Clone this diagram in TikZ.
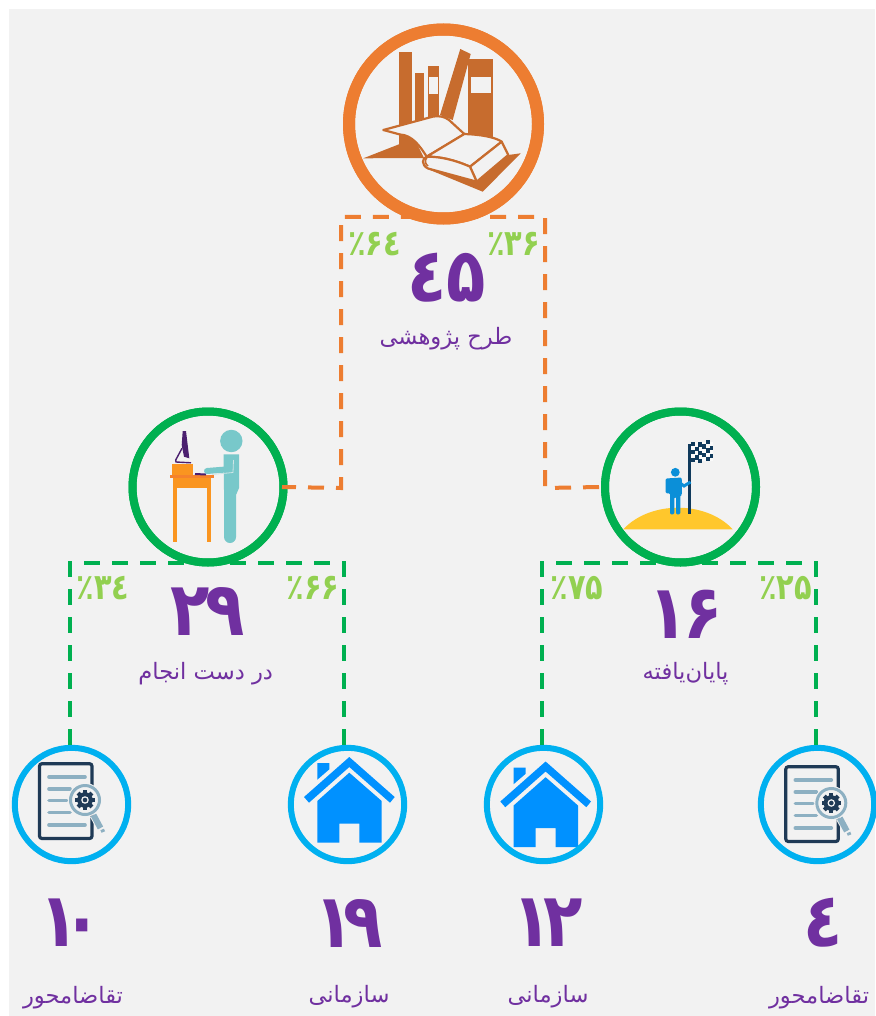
\documentclass[tikz,border=0pt]{standalone}
\usepackage{fontspec}
\newfontfamily\fa[Script=Arabic]{DejaVu Sans}
\newfontfamily\fanum[Script=Arabic,FakeStretch=0.86]{DejaVu Sans Bold}
\newfontfamily\fapct[Script=Arabic,FakeStretch=0.8]{DejaVu Sans Bold}
\TeXXeTstate=1
\definecolor{bgc}{HTML}{F2F2F2}
\definecolor{ringO}{HTML}{ED7D31}
\definecolor{ringG}{HTML}{00B050}
\definecolor{ringB}{HTML}{00B0F0}
\definecolor{purp}{HTML}{7030A0}
\definecolor{pct}{HTML}{92D050}
\definecolor{bookc}{HTML}{C76C2E}
\definecolor{teal}{HTML}{78C8CA}
\definecolor{deskA}{HTML}{FA9520}
\definecolor{deskB}{HTML}{F5822C}
\definecolor{monc}{HTML}{4B1F6F}
\definecolor{hill}{HTML}{FFC72C}
\definecolor{navy}{HTML}{103A5C}
\definecolor{manc}{HTML}{0B8FD8}
\definecolor{docn}{HTML}{1F3A56}
\definecolor{docl}{HTML}{8DB0C2}
\definecolor{housec}{HTML}{0091FF}
\tikzset{
  ring/.style={circle,draw,inner sep=0pt,fill=none},
  bigring/.style={ring,draw=ringO,line width=12pt,minimum size=189pt},
  midring/.style={ring,draw=ringG,line width=8pt,minimum size=151pt},
  smallring/.style={ring,draw=ringB,line width=6pt,minimum size=113.4pt},
  orangedash/.style={draw=ringO,line width=4pt,dash pattern=on 16pt off 12pt},
  greendash/.style={draw=ringG,line width=4pt,dash pattern=on 16pt off 12pt},
  numlabel/.style={text=purp,font=\fanum\fontsize{75}{75}\selectfont,inner sep=0pt},
  pctlabel/.style={text=pct,font=\fapct\fontsize{36}{36}\selectfont,inner sep=0pt},
  namelabel/.style={text=purp,font=\fa\fontsize{22.6}{22.6}\selectfont,inner sep=0pt},
  pageout/.style={fill=bgc,draw=bookc,line width=2.2pt,line join=round},
}
\newcommand{\docicon}{%
  \draw[docn,line width=3.2pt,rounded corners=2.5pt] (39.5,763.7) rectangle (92,838.5);
  \foreach \yy/\xx in {777/85,789/70,800.5/66.7,812.5/70,825/85}
    \draw[docl,line width=3.6pt,line cap=round] (49,\yy) -- (\xx,\yy);
  \draw[bgc,line width=8pt] (93.5,815) -- (103,832);
  \draw[docl,line width=6pt] (93.5,815) -- (100.5,828);
  \draw[docl,line width=2.8pt] (101,831.5) -- (104.5,830);
  \fill[bgc] (85,800) circle (17);
  \draw[docl,line width=3pt] (85,800) circle (14.5);
  \fill[docn] (85,800) circle (7.8);
  \foreach \a in {0,45,...,315}
    \fill[docn,rotate around={\a:(85,800)}] (83,790.2) rectangle (87,794);
  \fill[bgc] (85,800) circle (3.8);
  \fill[docn] (85,800) circle (2.3);
}
\newcommand{\houseicon}{%
  \fill[housec] (317.3,801) -- (349.3,772.7) -- (381.7,801) -- (381.7,842.7) -- (359.3,842.7) -- (359.3,823.7) -- (339.3,823.7) -- (339.3,842.7) -- (317.3,842.7) -- cycle;
  \fill[housec] (349.3,757) -- (394.7,797) -- (390,802.7) -- (349.3,767) -- (309,802.7) -- (304,797) -- cycle;
  \fill[housec] (317.3,763) -- (329.3,763) -- (329.3,769.3) -- (317.3,779.7) -- cycle;
}
\begin{document}
\begin{tikzpicture}[x=1pt,y=-1pt]
\useasboundingbox (0,0) rectangle (875,1016);
\fill[bgc] (9,9) rectangle (875,1016);

% ---------- book icon
\fill[bookc] (399,51.7) rectangle (412.3,128);
\fill[bookc] (415,72.7) rectangle (424.3,122);
\fill[bookc] (427.7,65.7) rectangle (439.3,118);
\fill[bgc] (429.3,77.3) rectangle (438,94.3);
\fill[bookc] (460.3,49) -- (470.7,54) -- (452.7,120) -- (440,115) -- cycle;
\fill[bookc] (468.3,58.7) rectangle (492.7,137);
\fill[bgc] (470.7,76.7) rectangle (490.7,92.7);
\fill[bookc] (363.3,158.3) -- (399,144.3) -- (399,132) -- (412,134) -- (424,158) -- cycle;
\fill[bookc] (508.3,155) -- (520.7,153.3) -- (482.7,191.7) -- (430,170) -- (470,160) -- cycle;
\path[pageout] (383.3,130) -- (433.3,116.5) .. controls (440,115.5) and (445,117) .. (449,120) -- (464.3,134) -- (426.7,156.7) .. controls (420,146) and (412,135) .. (400,134.5) -- cycle;
\path[pageout] (464.3,134) .. controls (480,134.5) and (495,137) .. (501.7,141.7) -- (470,166.7) .. controls (455,160) and (440,156.5) .. (426.7,156.7) -- cycle;
\path[pageout] (501.7,141.7) -- (508.3,155) -- (476.7,181.7) -- (470,166.7) -- cycle;
\path[pageout] (426.7,156.7) .. controls (440,156.5) and (455,160) .. (470,166.7) -- (476.7,181.7) -- (428,168.5) .. controls (421,165) and (422,158) .. (426.7,156.7) -- cycle;
\draw[bookc,line width=1.6pt] (427,157.5) .. controls (424.5,160) and (425,164) .. (428,166);

% ---------- desk icon
\fill[deskA] (172.3,463.7) rectangle (193.3,475);
\fill[deskA] (173.3,478) rectangle (210.7,488.3);
\fill[deskA] (173.3,488) rectangle (177,542.3);
\fill[deskA] (207,488) rectangle (210.7,542.3);
\fill[deskB] (170,475) rectangle (214,478.3);
\fill[monc] (182.7,431) -- (186,431) -- (189.3,458.3) -- (184,456.7) -- (181.7,445) -- cycle;
\draw[monc,line width=1.4pt] (182,448.3) -- (175.7,460) -- (176,462) -- (191,462.8);
\draw[monc,line width=2pt] (195,474) -- (206,474.5);
\fill[teal] (231.3,441) circle (11.2);
\fill[teal] (223.5,454.3) -- (239,454.3) -- (239,488) -- (236,495) -- (236,537) arc[start angle=0,end angle=180,radius=6] -- (224,490) -- cycle;
\draw[teal,line width=6pt,line cap=round] (207,471) -- (232,469);
\draw[bgc!70!teal,line width=.8pt] (212,474.5) -- (233,472.5) -- (233.5,460);

% ---------- flag icon
\fill[hill] (623.3,529.3) .. controls (650,500.5) and (706,500.5) .. (732.7,529.3) -- cycle;
\fill[bgc!40!white] (691,442) rectangle (712.7,461);
\foreach \c in {0,...,5}
  \foreach \r in {0,...,4}{
    \pgfmathsetmacro\px{691+3.7*\c}
    \pgfmathsetmacro\py{441.5+4.1*\r+1.6*sin(\c*75)}
    \pgfmathparse{int(mod(\c+\r,2))}
    \ifnum\pgfmathresult=0
      \fill[navy] (\px,\py) rectangle (\px+3.9,\py+4.2);
    \fi
  }
\fill[navy] (688.3,444.3) rectangle (691,514);
\fill[manc] (675.3,472.3) circle (4.4);
\fill[manc,rounded corners=1.2pt] (665.7,478.5) -- (681.7,477.5) -- (682,495) -- (680.3,495) -- (680.3,514.3) -- (676,514.3) -- (676,497) -- (674.3,497) -- (674.3,514.3) -- (670,514.3) -- (670,493.3) -- (665.7,493.3) -- cycle;
\draw[manc,line width=3pt] (680,483) -- (684,486) -- (690.5,482);

% ---------- document and house icons
\begin{scope}\docicon\end{scope}
\begin{scope}[shift={(746.3,3)}]\docicon\end{scope}
\begin{scope}\houseicon\end{scope}
\begin{scope}[shift={(196.3,4.5)}]\houseicon\end{scope}

% ---------- rings
\node[midring] (L) at (208,487) {};
\node[midring] (R) at (680.5,487) {};
\node[smallring] (a) at (71.5,804.5) {};
\node[smallring] (b) at (347.5,804.5) {};
\node[smallring] (c) at (543.5,804.5) {};
\node[smallring] (d) at (817.5,804.5) {};

% ---------- green connectors
\coordinate (barL) at (L.center |- 0,563);
\coordinate (barR) at (R.center |- 0,563);
\draw[greendash] ([xshift=-1.5pt]a.north) |- (barL);
\draw[greendash] ([xshift=-3.5pt]b.north) |- (barL);
\draw[greendash] ([xshift=-1.5pt]c.north) |- (barR);
\draw[greendash] ([xshift=-1.5pt]d.north) |- (barR);
\node[midring] at (L) {};
\node[midring] at (R) {};

% ---------- top ring and orange connectors
\node[bigring] (root) at (443.5,124) {};
\coordinate (barT) at (root.center |- 0,217);
\draw[orangedash,dash phase=2pt] ([xshift=-5.5pt]L.east) -- (341,488) -- (341,217) -- (barT);
\draw[orangedash] ([xshift=-2pt]R.west) -- (545,488) -- (545,217) -- (barT);
\node[bigring] at (root) {};

% ---------- numbers
\node[numlabel] (n1) at (446.7,278) {٤۵};
\node[numlabel] (n2) at (207.5,611) {۲\kern-4pt۹};
\node[numlabel] (n3) at (685.5,614) {۱\kern-5pt۶};
\node[numlabel] (n4) at (71,923) {۱\kern-16pt۰};
\node[numlabel] (n5) at (349,923) {۱\kern-10pt۹};
\node[numlabel] (n6) at (548,923) {۱\kern-8pt۲};
\node[numlabel] (n7) at (823,923) {٤};

% ---------- percentages
\node[pctlabel] (p1) at (374.5,244) {٪۶٤};
\node[pctlabel] (p2) at (513.5,244) {٪۳۶};
\node[pctlabel] (p3) at (103,588) {٪۳٤};
\node[pctlabel] (p4) at (313,588) {٪۶۶};
\node[pctlabel] (p5) at (577,588) {٪۷۵};
\node[pctlabel] (p6) at (785.5,588) {٪۲۵};

% ---------- names
\node[namelabel] (t1) at (446,339) {\beginR طرح پژوهشی\endR};
\node[namelabel] (t2) at (205.7,674) {\beginR در دست انجام\endR};
\node[namelabel] (t3) at (685.5,674) {\beginR پایان‌یافته\endR};
\node[namelabel] (t4) at (73,998) {\beginR تقاضامحور\endR};
\node[namelabel] (t5) at (349,997) {\beginR سازمانی\endR};
\node[namelabel] (t6) at (548,997) {\beginR سازمانی\endR};
\node[namelabel] (t7) at (819,998) {\beginR تقاضامحور\endR};
\end{tikzpicture}
\end{document}
